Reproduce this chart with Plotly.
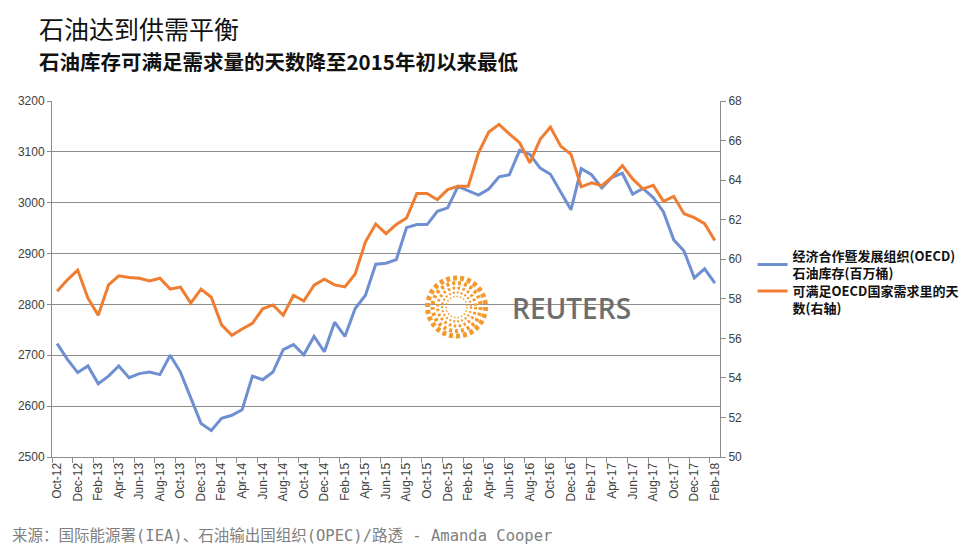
import pandas as pd
import plotly.graph_objects as go

months = pd.date_range("2012-10-01", "2018-02-01", freq="MS").strftime("%b-%y").tolist()

oecd_stocks = [2723, 2692, 2666, 2679, 2644, 2659, 2679, 2656, 2664, 2667,
               2662, 2700, 2667, 2618, 2566, 2552, 2576, 2582, 2593, 2659,
               2652, 2667, 2711, 2721, 2701, 2737, 2707, 2765, 2737, 2792,
               2818, 2879, 2881, 2888, 2951, 2957, 2957, 2983, 2990, 3032,
               3024, 3015, 3027, 3051, 3055, 3103, 3095, 3068, 3056, 3020,
               2986, 3067, 3055, 3029, 3050, 3058, 3017, 3028, 3010, 2982,
               2927, 2905, 2852, 2870, 2842]

days_cover = [58.38, 58.96, 59.45, 58.03, 57.17, 58.70, 59.16, 59.08, 59.04, 58.90,
              59.04, 58.49, 58.59, 57.78, 58.49, 58.08, 56.68, 56.15, 56.47, 56.76,
              57.49, 57.69, 57.17, 58.18, 57.89, 58.69, 58.99, 58.70, 58.60, 59.25,
              60.88, 61.78, 61.29, 61.76, 62.08, 63.32, 63.32, 63.01, 63.52, 63.69,
              63.69, 65.38, 66.43, 66.82, 66.34, 65.89, 64.87, 66.06, 66.68, 65.72,
              65.30, 63.66, 63.86, 63.72, 64.16, 64.74, 64.06, 63.56, 63.74, 62.93,
              63.18, 62.30, 62.10, 61.80, 60.95]

name_stocks = "经济合作暨发展组织(OECD)<br>石油库存(百万桶)"
name_days = "可满足OECD国家需求里的天<br>数(右轴)"

title = "石油达到供需平衡"
subtitle = "石油库存可满足需求量的天数降至2015年初以来最低"
source = "来源：国际能源署(IEA)、石油输出国组织(OPEC)/路透 - Amanda Cooper"

BLUE = "#6E8FD1"
ORANGE = "#EF7D32"
GRID = "#8C8C8C"
CJK = "Noto Sans CJK SC"
TICKFONT = dict(family="Liberation Sans, Arial", size=12, color="#404040")

fig = go.Figure()
fig.add_trace(go.Scatter(x=months, y=oecd_stocks, name=name_stocks, mode="lines",
                         line=dict(color=BLUE, width=3), yaxis="y", legend="legend"))
fig.add_trace(go.Scatter(x=months, y=days_cover, name=name_days, mode="lines",
                         line=dict(color=ORANGE, width=3), yaxis="y2", legend="legend2"))

W, H = 976, 551
L, R, T, B = 52, 247, 101, 94
pw, ph = W - L - R, H - T - B

def px(x):
    return (x - L) / pw

def py(y):
    return (H - B - y) / ph

LEGFONT = dict(family=CJK, size=13, color="#111111", weight="bold")

fig.update_layout(
    width=W, height=H,
    margin=dict(l=L, r=R, t=T, b=B, pad=0),
    paper_bgcolor="white", plot_bgcolor="white",
    showlegend=True,
    legend=dict(x=px(762), y=py(241), xanchor="left", yanchor="top", font=LEGFONT,
                bgcolor="rgba(0,0,0,0)", itemwidth=30, valign="middle"),
    legend2=dict(x=px(762), y=py(276), xanchor="left", yanchor="top", font=LEGFONT,
                 bgcolor="rgba(0,0,0,0)", itemwidth=30, valign="top"),
    xaxis=dict(type="category", range=[-0.5, 64.5], dtick=2, tickson="boundaries",
               ticks="outside", ticklen=5, tickcolor=GRID, tickangle=-90,
               showline=True, linecolor=GRID, linewidth=1, showgrid=False,
               tickfont=TICKFONT),
    yaxis=dict(range=[2500, 3200], dtick=100, showgrid=True, gridcolor=GRID, gridwidth=1,
               showline=True, linecolor=GRID, linewidth=1, ticks="outside", ticklen=4,
               tickcolor=GRID, tickfont=TICKFONT, zeroline=False),
    yaxis2=dict(range=[50, 68], dtick=2, overlaying="y", side="right", showgrid=False,
                showline=True, linecolor=GRID, linewidth=1, ticks="outside", ticklen=5,
                tickcolor=GRID, tickfont=TICKFONT, zeroline=False),
)

annotations = [
    dict(text=title, x=px(37), y=py(28), xref="paper", yref="paper", xanchor="left",
         yanchor="middle", showarrow=False, font=dict(family=CJK, size=25, color="#111111")),
    dict(text=subtitle, x=px(37), y=py(61), xref="paper", yref="paper", xanchor="left",
         yanchor="middle", showarrow=False,
         font=dict(family=CJK, size=20.5, color="#111111", weight="bold")),
    dict(text=source, x=px(9), y=py(536), xref="paper", yref="paper", xanchor="left",
         yanchor="middle", showarrow=False,
         font=dict(family="DejaVu Sans Mono, Noto Sans CJK SC", size=15.5, color="#808080")),
    dict(text="REUTERS", x=px(579), y=py(308), xref="paper", yref="paper", xanchor="center",
         yanchor="middle", showarrow=False,
         font=dict(family="Open Sans, Liberation Sans", size=28, color="#6E6E6E", weight=600)),
]
fig.update_layout(annotations=annotations)

shapes = [dict(type="rect", xref="paper", yref="paper", x0=px(423), x1=px(659),
               y0=py(322), y1=py(292), fillcolor="white", line=dict(width=0), layer="between")]
cx, cy = px(462), py(307)
for r, w, d in [(29, 5, "4px,3px"), (24, 4, "3px,3px"), (19, 3, "2.5px,2.5px"),
                (14.5, 2.2, "2px,2px"), (10.5, 1.5, "1.5px,2px")]:
    shapes.append(dict(type="circle", xref="paper", yref="paper", xsizemode="pixel",
                       ysizemode="pixel", xanchor=cx, yanchor=cy, x0=-r, x1=r, y0=-r, y1=r,
                       line=dict(color="#F39A2E", width=w, dash=d), layer="above"))
fig.update_layout(shapes=shapes)

fig.write_html("out.html")
